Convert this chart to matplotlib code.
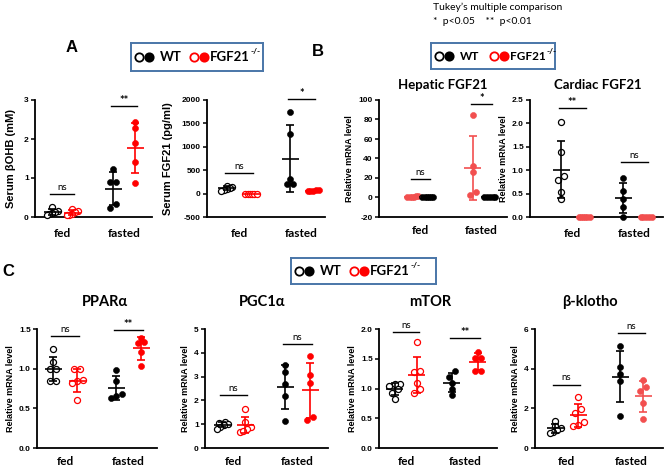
import numpy as np
import matplotlib.pyplot as plt

plt.rcParams['font.family'] = ['Liberation Sans', 'DejaVu Sans']

# ---------------- data ----------------
cats = ['fed', 'fasted']

# A: serum beta-hydroxybutyrate (mM)
bohb_wt_fed = [0.25, 0.15, 0.12, 0.10, 0.08, 0.04]
bohb_ko_fed = [0.20, 0.15, 0.12, 0.08, 0.06, 0.04]
bohb_wt_fast = [1.24, 0.90, 0.90, 0.34, 0.23]
bohb_ko_fast = [2.43, 2.27, 1.89, 1.41, 0.87]
bohb_sig = [('ns', 0.58, 0), ('**', 2.85, 1)]

# A: serum FGF21 (pg/ml)
sfgf_wt_fed = [170, 140, 120, 100, 80, 50]
sfgf_ko_fed = [0, 0, 0, 0, 0, 0]
sfgf_wt_fast = [1736, 1264, 321, 214, 200]
sfgf_ko_fast = [80, 70, 65, 60, 55]
sfgf_sig = [('ns', 443, 0), ('*', 2020, 1)]

# B: hepatic FGF21 mRNA
hep_ko_fed = [1.5, 1.2, 1.0, 0.8, 0.5, 0.3]
hep_wt_fed = [0, 0, 0, 0, 0, 0]
hep_ko_fast = [85, 32, 26, 6, 2.4]
hep_wt_fast = [0, 0, 0, 0, 0]
hep_sig = [('ns', 19, 0), ('*', 96, 1)]

# B: cardiac FGF21 mRNA
card_wt_fed = [2.03, 1.39, 0.88, 0.80, 0.54, 0.39]
card_ko_fed = [0, 0, 0, 0, 0, 0]
card_wt_fast = [0.83, 0.56, 0.39, 0.21, 0.0]
card_ko_fast = [0, 0, 0, 0, 0]
card_sig = [('**', 2.33, 0), ('ns', 1.17, 1)]

# C: PPARa
ppar_wt_fed = [1.25, 1.08, 0.99, 0.99, 0.85, 0.85]
ppar_ko_fed = [0.99, 0.99, 0.86, 0.84, 0.82, 0.60]
ppar_wt_fast = [0.98, 0.85, 0.68, 0.66, 0.63]
ppar_ko_fast = [1.39, 1.34, 1.32, 1.21, 1.03]
ppar_sig = [('ns', 1.41, 0), ('**', 1.49, 1)]

# C: PGC1a
pgc_wt_fed = [1.10, 1.05, 1.00, 0.98, 0.90, 0.80]
pgc_ko_fed = [1.62, 1.10, 0.90, 0.80, 0.68, 0.70]
pgc_wt_fast = [3.48, 3.20, 2.70, 2.20, 1.15]
pgc_ko_fast = [3.86, 3.06, 2.73, 1.32, 1.18]
pgc_sig = [('ns', 2.24, 0), ('ns', 4.38, 1)]

# C: mTOR
mtor_wt_fed = [1.08, 1.07, 1.04, 1.00, 0.93, 0.83]
mtor_ko_fed = [1.78, 1.30, 1.27, 1.10, 1.00, 0.93]
mtor_wt_fast = [1.29, 1.20, 1.10, 1.00, 0.89]
mtor_ko_fast = [1.62, 1.51, 1.51, 1.30, 1.30]
mtor_sig = [('ns', 1.95, 0), ('**', 1.85, 1)]

# C: beta-klotho
klo_wt_fed = [1.38, 1.10, 1.00, 0.90, 0.80, 0.75]
klo_ko_fed = [2.55, 1.95, 1.78, 1.32, 1.15, 1.10]
klo_wt_fast = [5.15, 4.10, 3.75, 3.40, 1.60]
klo_ko_fast = [3.45, 3.06, 2.85, 2.26, 1.45]
klo_sig = [('ns', 3.2, 0), ('ns', 5.8, 1)]

# ---------------- styling ----------------
RED = '#ff0000'
SALMON = '#f24f4f'
BLACK = '#000000'
BOXBLUE = '#4a76a8'
CAL = ['Lato', 'DejaVu Sans']

W, H = 668, 473
fig = plt.figure(figsize=(W / 100, H / 100), dpi=100)

DIAM = 6.0   # marker diameter in px
CAP = 5.5    # max horizontal spread of point centres


def frac(x0, y0, x1, y1):
    return [x0 / W, 1 - y1 / H, (x1 - x0) / W, (y1 - y0) / H]


def spread(ax, vals):
    # prism-like rows: points with close y share a row and are spread evenly
    ys = ax.transData.transform(np.column_stack([np.zeros(len(vals)), vals]))[:, 1]
    order = np.argsort(ys)
    offs = np.zeros(len(vals))
    rows, cur, start = [], [], None
    for i in order:
        if cur and ys[i] - start > DIAM * 0.9:
            rows.append(cur)
            cur = []
        if not cur:
            start = ys[i]
        cur.append(i)
    rows.append(cur)
    for r in rows:
        n = len(r)
        if n == 1:
            continue
        step = min(DIAM, 2 * CAP / (n - 1))
        for k, i in enumerate(r):
            offs[i] = (k - (n - 1) / 2) * step
    return offs


def panel(pbox, xpos, ylim, yticks, yticklabels, groups, sig, ylabel,
          lab_size=6.5, lab_pad=3, cat_pad=6):
    x0, y0, x1, y1 = pbox
    ax = fig.add_axes(frac(*pbox))
    ax.set_xlim(0, x1 - x0)
    ax.set_ylim(*ylim)
    for s in ['top', 'right']:
        ax.spines[s].set_visible(False)
    for s in ['left', 'bottom']:
        ax.spines[s].set_linewidth(1.3)
    ax.set_yticks(yticks)
    ax.set_yticklabels(yticklabels, fontsize=6, fontweight='bold')
    ax.tick_params(axis='y', length=3, width=1.1, pad=1.5)
    ax.set_xticks([(xpos[0] + xpos[1]) / 2, (xpos[2] + xpos[3]) / 2])
    ax.set_xticklabels(cats, fontsize=8.5, fontweight='bold', family=CAL)
    ax.tick_params(axis='x', length=0, pad=cat_pad)
    ax.set_ylabel(ylabel, fontsize=lab_size, fontweight='bold', labelpad=lab_pad)

    for pos, (vals, color, filled) in zip(xpos, groups):
        vals = np.asarray(vals, float)
        off = spread(ax, vals)
        ax.scatter(pos + off, vals, s=19, marker='o',
                   facecolors=color if filled else 'white',
                   edgecolors=color, linewidths=0.9 if not filled else 0.4,
                   zorder=3, clip_on=False)
        m, sd = vals.mean(), vals.std(ddof=1)
        kw = dict(color=color, lw=1.2, zorder=4, clip_on=False, solid_capstyle='butt')
        ax.plot([pos - 8.5, pos + 8.5], [m, m], **kw)
        if sd > 0:
            ax.plot([pos, pos], [m - sd, m + sd], **kw)
            ax.plot([pos - 4, pos + 4], [m + sd, m + sd], **kw)
            ax.plot([pos - 4, pos + 4], [m - sd, m - sd], **kw)

    for txt, yv, g in sig:
        a, b = xpos[2 * g], xpos[2 * g + 1]
        ax.plot([a - 2, b + 2], [yv, yv], color=BLACK, lw=1.0, clip_on=False)
        ax.annotate(txt, ((a + b) / 2, yv), xytext=(0, 1.5 if txt == 'ns' else 0),
                    textcoords='offset points', ha='center', va='bottom',
                    fontsize=7 if txt == 'ns' else 8, family=CAL,
                    fontweight='normal' if txt == 'ns' else 'bold',
                    annotation_clip=False)
    return ax


# ---- panel A ----
panel((35, 100, 152, 217), [17, 37, 78, 100], (0, 3), [0, 1, 2, 3],
      ['0', '1', '2', '3'],
      [(bohb_wt_fed, BLACK, False), (bohb_ko_fed, RED, False),
       (bohb_wt_fast, BLACK, True), (bohb_ko_fast, RED, True)],
      bohb_sig, 'Serum βOHB (mM)', lab_size=8, lab_pad=6, cat_pad=8)

panel((207, 100, 325, 217), [20, 44, 83, 106], (-500, 2000),
      [-500, 0, 500, 1000, 1500, 2000],
      ['-500', '0', '500', '1000', '1500', '2000'],
      [(sfgf_wt_fed, BLACK, False), (sfgf_ko_fed, RED, False),
       (sfgf_wt_fast, BLACK, True), (sfgf_ko_fast, RED, True)],
      sfgf_sig, 'Serum FGF21 (pg/ml)', lab_size=8, lab_pad=6, cat_pad=8)

# ---- panel B ----
panel((379, 100, 507, 217), [34, 49, 94, 111], (-20, 100),
      [-20, 0, 20, 40, 60, 80, 100],
      ['-20', '0', '20', '40', '60', '80', '100'],
      [(hep_ko_fed, SALMON, True), (hep_wt_fed, BLACK, True),
       (hep_ko_fast, SALMON, True), (hep_wt_fast, BLACK, True)],
      hep_sig, 'Relative mRNA level', cat_pad=6)

panel((530, 100, 663, 217), [31, 54, 93, 116], (0, 2.5),
      [0, 0.5, 1.0, 1.5, 2.0, 2.5],
      ['0.0', '0.5', '1.0', '1.5', '2.0', '2.5'],
      [(card_wt_fed, BLACK, False), (card_ko_fed, SALMON, True),
       (card_wt_fast, BLACK, True), (card_ko_fast, SALMON, True)],
      card_sig, 'Relative mRNA level', cat_pad=8)

# ---- panel C ----
panel((37, 329, 157, 448), [16, 40, 79, 104], (0, 1.5), [0, 0.5, 1.0, 1.5],
      ['0.0', '0.5', '1.0', '1.5'],
      [(ppar_wt_fed, BLACK, False), (ppar_ko_fed, RED, False),
       (ppar_wt_fast, BLACK, True), (ppar_ko_fast, RED, True)],
      ppar_sig, 'Relative mRNA level')

panel((205, 329, 328, 448), [17, 40, 80, 105], (0, 5), [0, 1, 2, 3, 4, 5],
      ['0', '1', '2', '3', '4', '5'],
      [(pgc_wt_fed, BLACK, False), (pgc_ko_fed, RED, False),
       (pgc_wt_fast, BLACK, True), (pgc_ko_fast, RED, True)],
      pgc_sig, 'Relative mRNA level')

panel((379, 329, 497, 448), [16, 38, 73, 99], (0, 2.0), [0, 0.5, 1.0, 1.5, 2.0],
      ['0.0', '0.5', '1.0', '1.5', '2.0'],
      [(mtor_wt_fed, BLACK, False), (mtor_ko_fed, RED, False),
       (mtor_wt_fast, BLACK, True), (mtor_ko_fast, RED, True)],
      mtor_sig, 'Relative mRNA level')

panel((535, 329, 663, 448), [20, 43, 85, 108], (0, 6), [0, 2, 4, 6],
      ['0', '2', '4', '6'],
      [(klo_wt_fed, BLACK, False), (klo_ko_fed, RED, False),
       (klo_wt_fast, BLACK, True), (klo_ko_fast, SALMON, True)],
      klo_sig, 'Relative mRNA level')


# ---------------- titles, letters, legend boxes ----------------
def ftext(x, y, s, **kw):
    fig.text(x / W, 1 - y / H, s, **kw)


ftext(443, 85, 'Hepatic FGF21', ha='center', va='center', fontsize=9.5,
      fontweight='bold', family=CAL)
ftext(598, 85, 'Cardiac FGF21', ha='center', va='center', fontsize=9.5,
      fontweight='bold', family=CAL)
for x, t in [(105, 'PPARα'), (262, 'PGC1α'), (430, 'mTOR'), (590, 'β-klotho')]:
    ftext(x, 302, t, ha='center', va='center', fontsize=10.5,
          fontweight='bold', family=CAL)

for x, y, t in [(72, 47, 'A'), (318, 52, 'B'), (8, 271, 'C')]:
    ftext(x, y, t, ha='center', va='center', fontsize=12, fontweight='bold')

ftext(433, 7, "Tukey’s multiple comparison", ha='left', va='center',
      fontsize=7.5, family=CAL)
ftext(433, 22, '*  p<0.05    **  p<0.01', ha='left', va='center',
      fontsize=7.5, family=CAL)


def legend_box(x0, y0, x1, y1, fs):
    ax = fig.add_axes(frac(x0, y0, x1, y1))
    ax.set_xlim(0, x1 - x0)
    ax.set_ylim(y1 - y0, 0)
    ax.set_xticks([])
    ax.set_yticks([])
    for s in ax.spines.values():
        s.set_color(BOXBLUE)
        s.set_linewidth(1.4)
    yc = (y1 - y0) / 2
    mk = dict(marker='o', ms=6.0, mew=1.3, ls='none')
    ax.plot([8], [yc], mfc='white', mec=BLACK, **mk)
    ax.plot([17.5], [yc], mfc=BLACK, mec=BLACK, **mk)
    ax.text(29, yc, 'WT', ha='left', va='center', fontsize=fs,
            fontweight='bold', family=CAL)
    ax.plot([63], [yc], mfc='white', mec=RED, **mk)
    ax.plot([72.5], [yc], mfc=RED, mec=RED, **mk)
    t = ax.text(79, yc, 'FGF21', ha='left', va='center', fontsize=fs,
                fontweight='bold', family=CAL)
    ax.annotate('-/-', xy=(1.0, 0.95), xycoords=t, xytext=(0.5, 0),
                textcoords='offset points', ha='left', va='center',
                fontsize=6, fontweight='bold', family=CAL)


legend_box(131, 43, 263, 71, 9.5)
legend_box(431, 43, 555, 69, 8.5)
legend_box(291, 258, 436, 284, 9.5)

fig.savefig('out.png', dpi=100)
